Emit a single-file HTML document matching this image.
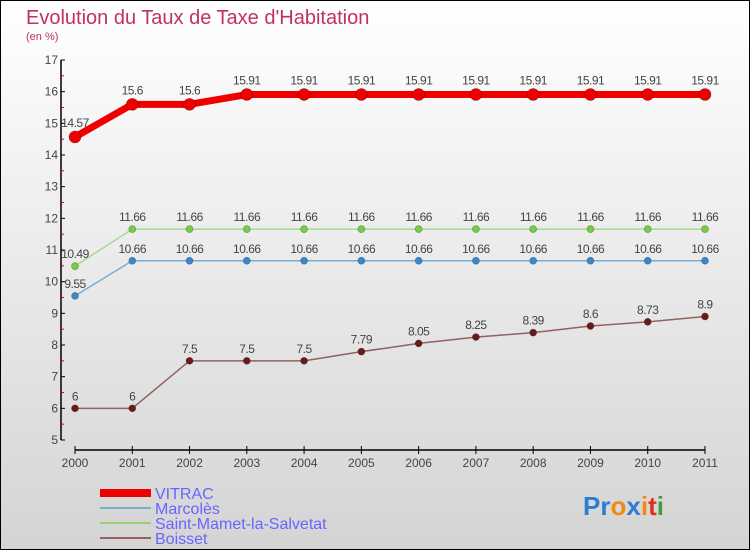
<!DOCTYPE html>
<html><head><meta charset="utf-8"><style>
html,body{margin:0;padding:0}
body{width:750px;height:550px;overflow:hidden;font-family:"Liberation Sans",sans-serif}
</style></head><body>
<svg width="750" height="550" xmlns="http://www.w3.org/2000/svg" id="chart">
<defs><linearGradient id="bg" x1="0" y1="0" x2="0" y2="1"><stop offset="0" stop-color="#ffffff"/><stop offset="1" stop-color="#d4d4d4"/></linearGradient></defs>
<rect x="0.5" y="0.5" width="749" height="549" fill="url(#bg)" stroke="#000"/>
<text x="26" y="24" font-size="20" fill="#c0306a">Evolution du Taux de Taxe d'Habitation</text>
<text x="26" y="40" font-size="11" fill="#c0306a">(en %)</text>
<g id="axes"></g><g id="series"></g>
<g>
<rect x="100" y="489" width="51" height="8" fill="#ee0000"/>
<text x="155" y="499" font-size="16" fill="#6666ff">VITRAC</text>
<line x1="100" y1="508" x2="151" y2="508" stroke="#7aaed0" stroke-width="2"/>
<text x="155" y="514" font-size="16" fill="#6666ff">Marcolès</text>
<line x1="100" y1="523" x2="151" y2="523" stroke="#99d070" stroke-width="2"/>
<text x="155" y="529" font-size="16" fill="#6666ff">Saint-Mamet-la-Salvetat</text>
<line x1="100" y1="538" x2="151" y2="538" stroke="#946060" stroke-width="2"/>
<text x="155" y="544" font-size="16" fill="#6666ff">Boisset</text>
</g>
<g font-size="26" font-weight="bold">
<text x="583" y="515"><tspan fill="#2a7fd0">Pr</tspan><tspan fill="#f08a10">o</tspan><tspan fill="#2a7fd0">x</tspan><tspan fill="#f08a10">i</tspan><tspan fill="#e03020">t</tspan><tspan fill="#40a040">i</tspan></text>
</g>
</svg>
<script>
const years=[2000,2001,2002,2003,2004,2005,2006,2007,2008,2009,2010,2011];
const vitrac=[14.57,15.6,15.6,15.91,15.91,15.91,15.91,15.91,15.91,15.91,15.91,15.91];
const marcoles=[9.55,10.66,10.66,10.66,10.66,10.66,10.66,10.66,10.66,10.66,10.66,10.66];
const saintMamet=[10.49,11.66,11.66,11.66,11.66,11.66,11.66,11.66,11.66,11.66,11.66,11.66];
const boisset=[6,6,7.5,7.5,7.5,7.79,8.05,8.25,8.39,8.6,8.73,8.9];
const yTicks=[5,6,7,8,9,10,11,12,13,14,15,16,17];
const NS="http://www.w3.org/2000/svg";
const x=i=>75+i*(630/11);
const y=v=>440-(v-5)*(380/12);
function mk(tag,attrs,parent,txt){const e=document.createElementNS(NS,tag);for(const k in attrs)e.setAttribute(k,attrs[k]);if(txt!==undefined)e.textContent=txt;parent.appendChild(e);return e;}
const ax=document.getElementById('axes');
let e=mk('line',{x1:61,y1:60,x2:61,y2:440,stroke:'#000','stroke-width':1.5},ax);


yTicks.forEach(t=>{
 const tk=mk('line',{x1:61,y1:y(t),x2:65,y2:y(t),stroke:'#000'},ax);
 
 
 const lb=mk('text',{x:58,y:y(t)+4,'font-size':12,fill:'#444','text-anchor':'end'},ax,String(t));
 
 
 if(t<17){const m=mk('line',{x1:61,y1:y(t+0.5),x2:64,y2:y(t+0.5),stroke:'#e00000'},ax);
 
 }
});
e=mk('line',{x1:x(0),y1:450,x2:x(11),y2:450,stroke:'#000','stroke-width':1.5},ax);


years.forEach((yr,i)=>{
 const tk=mk('line',{x1:x(i),y1:446,x2:x(i),y2:454,stroke:'#000'},ax);
 
 
 const lb=mk('text',{x:x(i),y:467,'font-size':12,fill:'#444','text-anchor':'middle'},ax,String(yr));
 
 
});
const sg=document.getElementById('series');
function series(vals,name,color,w,r,dot,labOff){
 const g=mk('g',{},sg);
 
 
 const p=mk('polyline',{points:vals.map((v,i)=>x(i)+','+y(v)).join(' '),fill:'none',stroke:color,'stroke-width':w,'stroke-linejoin':'round'},g);
 
 
 vals.forEach((v,i)=>{
  const c=mk('circle',{cx:x(i),cy:y(v),r:r,fill:dot,stroke:'rgba(0,0,0,0.3)','stroke-width':0.7},g);
  
  
  const t=mk('text',{x:x(i),y:y(v)-labOff,'font-size':12,fill:'#444','text-anchor':'middle','letter-spacing':'-0.5'},g,String(v));
  
  
 });
}
series(boisset,'boisset','#946060',1.5,3.5,'#6a1a1a',8);
series(marcoles,'marcoles','#7aaed0',1.5,3.5,'#3a88cc',8);
series(saintMamet,'saint-mamet','#a8d890',1.5,3.5,'#77cc44',8);
series(vitrac,'vitrac','#ee0000',7,6,'#ee0000',10);
</script>
</body></html>
